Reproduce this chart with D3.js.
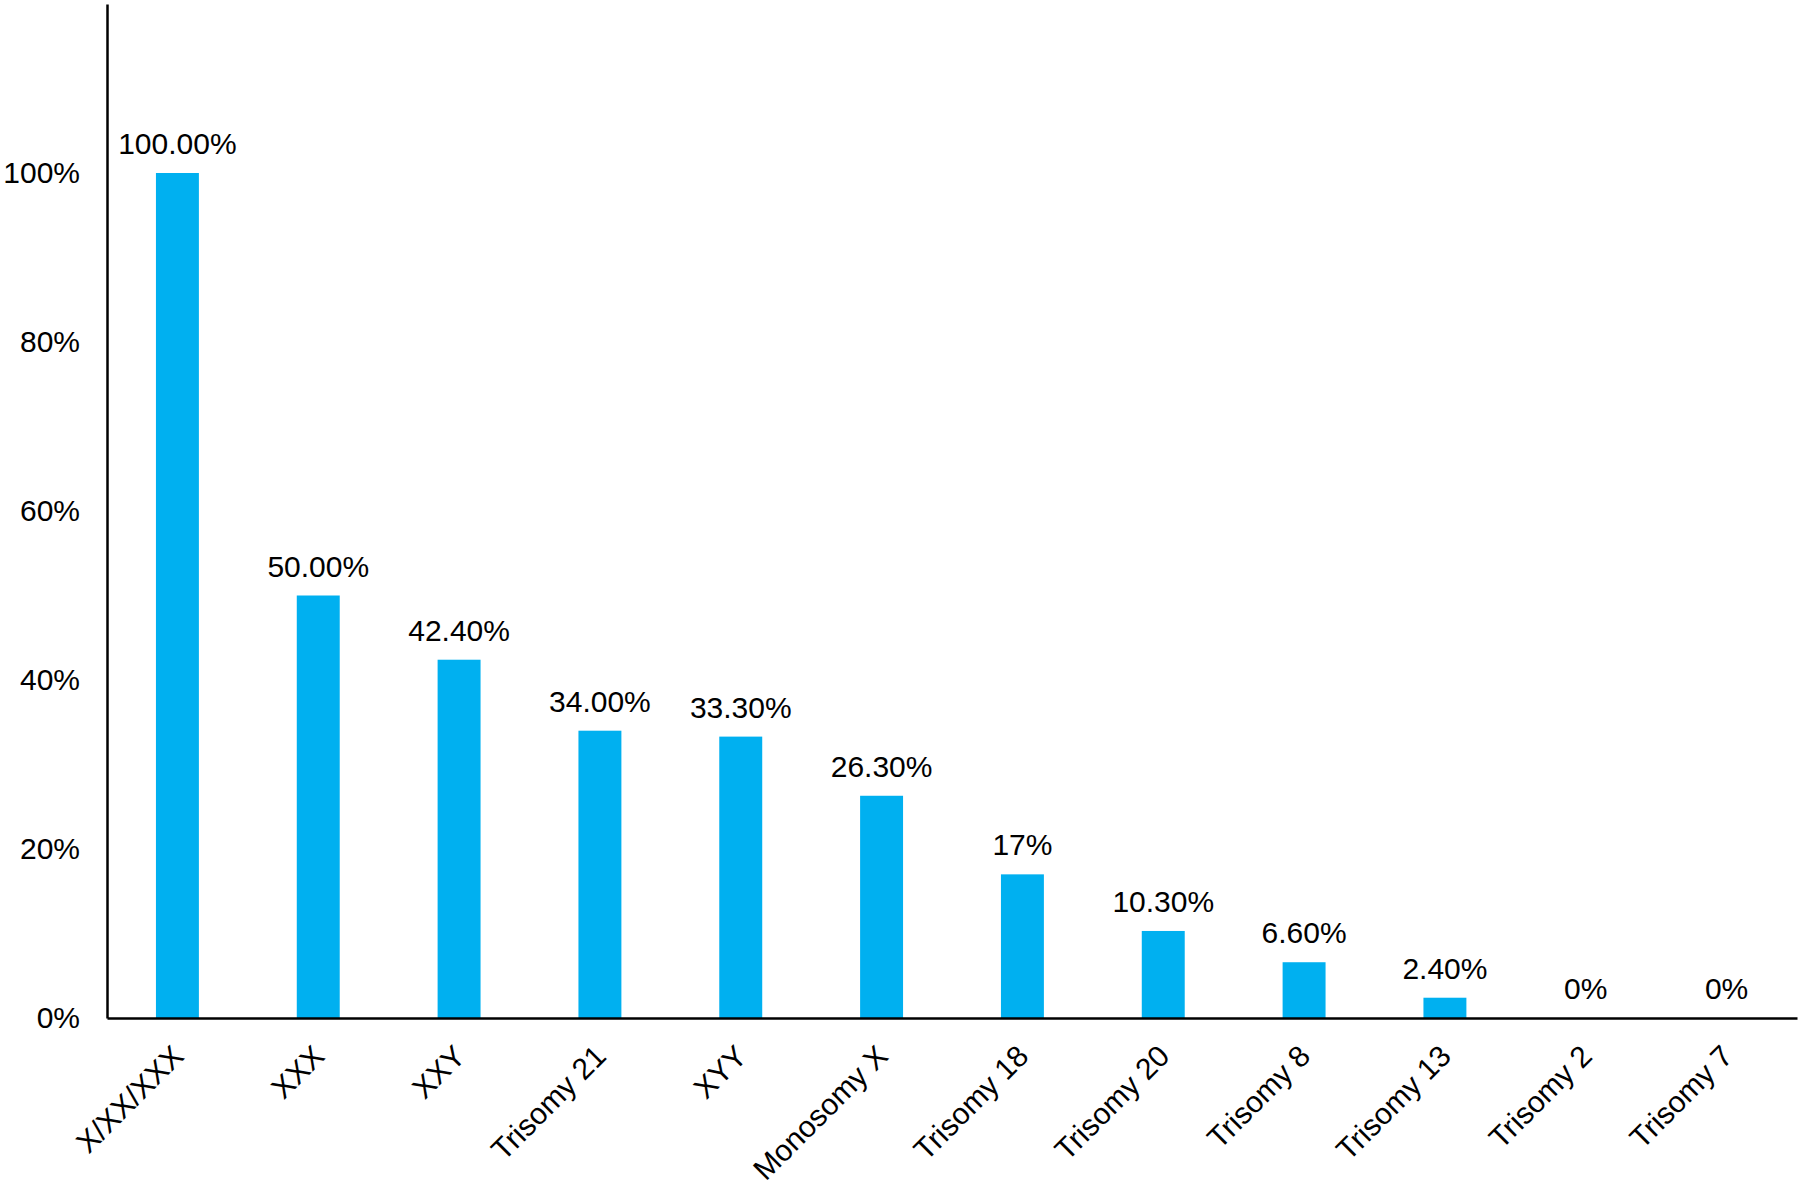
<!DOCTYPE html>
<html>
<head>
<meta charset="utf-8">
<script src="https://cdn.jsdelivr.net/npm/d3@7"></script>
<style>
	body { margin: 0; background: #fff; }
	text { font-family: "Liberation Sans", Arial, sans-serif; fill: #000; }
</style>
</head>
<body>
<div id="chart"></div>
<script>
// data
var categories = ["X/XX/XXX", "XXX", "XXY", "Trisomy 21", "XYY", "Monosomy X", "Trisomy 18", "Trisomy 20", "Trisomy 8", "Trisomy 13", "Trisomy 2", "Trisomy 7"];
var values = [1.00, 0.50, 0.424, 0.34, 0.333, 0.263, 0.17, 0.103, 0.066, 0.024, 0, 0];
var valueLabels = ["100.00%", "50.00%", "42.40%", "34.00%", "33.30%", "26.30%", "17%", "10.30%", "6.60%", "2.40%", "0%", "0%"];
var yTicks = [0, 0.2, 0.4, 0.6, 0.8, 1.0];

var width = 1800;
var height = 1199;
var margin = {left: 107, right: 3, top: 4, bottom: 181};

var svg = d3.select("#chart").append("svg")
	.attr("width", width)
	.attr("height", height);

var x = d3.scaleBand()
	.domain(categories)
	.range([margin.left, width - margin.right])
	.paddingInner(0.695)
	.paddingOuter(0.3475);

var y = d3.scaleLinear()
	.domain([0, 1.2])
	.range([height - margin.bottom, margin.top]);

// bars
svg.selectAll("rect.bar")
	.data(values)
	.enter().append("rect")
	.attr("class", "bar")
	.attr("x", function (d, i) { return x(categories[i]); })
	.attr("width", x.bandwidth())
	.attr("y", function (d) { return y(d); })
	.attr("height", function (d) { return y(0) - y(d); })
	.attr("fill", "#00b0f0");

// value labels
svg.selectAll("text.val")
	.data(values)
	.enter().append("text")
	.attr("class", "val")
	.attr("x", function (d, i) { return x(categories[i]) + x.bandwidth() / 2; })
	.attr("y", function (d) { return y(d) - 19; })
	.attr("text-anchor", "middle")
	.attr("font-size", 30)
	.text(function (d, i) { return valueLabels[i]; });

// y axis
var yAxis = d3.axisLeft(y)
	.tickValues(yTicks)
	.tickSize(0)
	.tickPadding(27)
	.tickFormat(d3.format(".0%"));

var gy = svg.append("g")
	.attr("transform", "translate(" + margin.left + ",0)")
	.call(yAxis);
gy.select(".domain").attr("stroke", "#000").attr("stroke-width", 2.5);
gy.selectAll("text").attr("font-size", 30).attr("font-family", null);

// x axis
var xAxis = d3.axisBottom(x).tickSize(0).tickPadding(0);
var gx = svg.append("g")
	.attr("transform", "translate(0," + y(0) + ")")
	.call(xAxis);
gx.select(".domain").attr("stroke", "#000").attr("stroke-width", 2.5);
gx.selectAll(".tick text")
	.attr("font-size", 30)
	.attr("font-family", null)
	.attr("text-anchor", "end")
	.attr("dy", null)
	.attr("y", 0)
	.attr("transform", "translate(8,40) rotate(-45)");
</script>
</body>
</html>
